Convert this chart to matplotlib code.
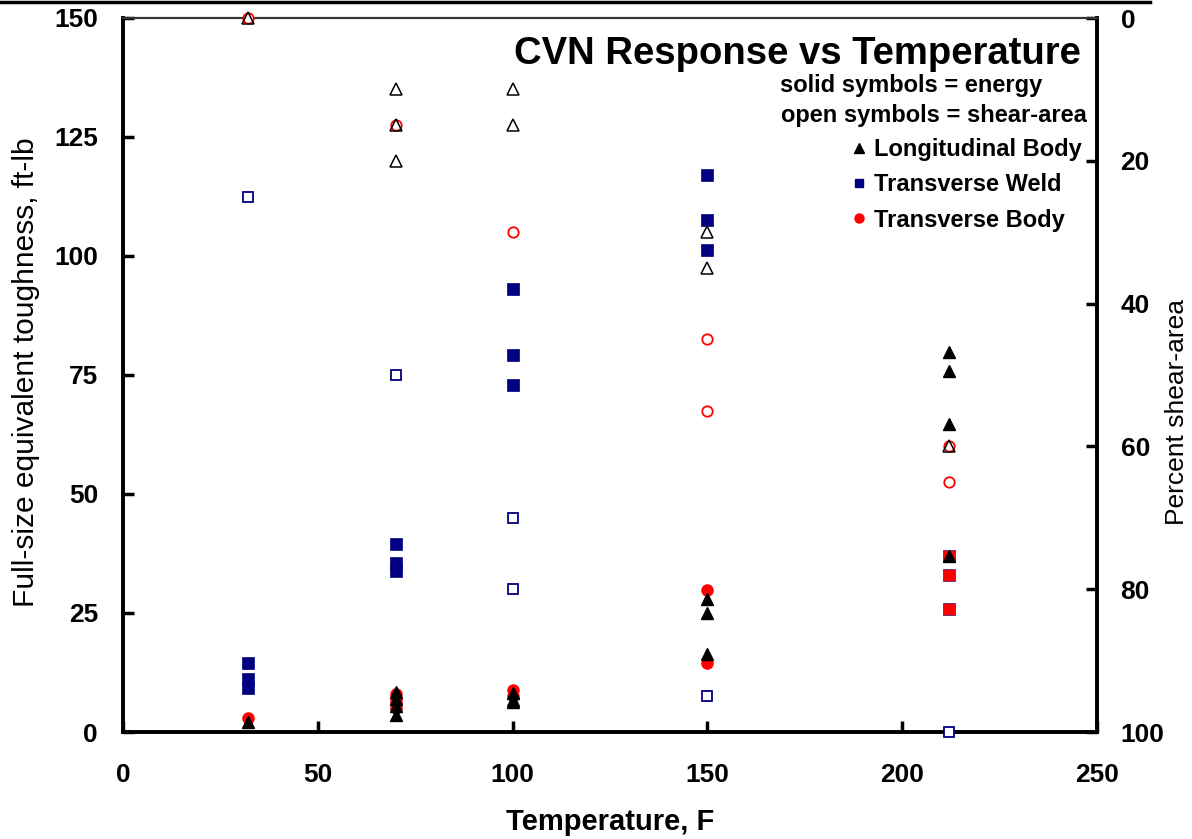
import matplotlib
matplotlib.use("Agg")
import matplotlib.pyplot as plt
from matplotlib.lines import Line2D

plt.rcParams['font.family'] = ['Liberation Sans', 'DejaVu Sans']

# ---- data ----
# Longitudinal Body energy (solid triangles), ft-lb
lb_energy_T = [32, 70, 70, 70, 70, 100, 100, 100, 150, 150, 150, 212, 212, 212, 212]
lb_energy = [2.1, 3.5, 5.5, 7.0, 8.3, 6.3, 6.8, 8.2, 28.0, 25.0, 16.4, 79.8, 75.8, 64.7, 37.0]

# Transverse Weld energy (solid squares), ft-lb
tw_energy_T = [32, 32, 32, 70, 70, 70, 100, 100, 100, 150, 150, 150]
tw_energy = [14.4, 11.1, 9.3, 39.5, 35.4, 33.9, 93.1, 79.2, 72.8, 117.1, 107.6, 101.3]

# Transverse Weld energy at 212 F (drawn red in the reference)
tw212_energy_T = [212, 212, 212]
tw212_energy = [37.0, 33.0, 25.8]

# Transverse Body energy (solid circles), ft-lb
tb_energy_T = [32, 70, 70, 70, 70, 100, 100, 150, 150]
tb_energy = [2.9, 8.0, 7.0, 6.0, 5.0, 8.8, 7.5, 29.8, 14.5]

# Shear-area, percent (open symbols, right axis)
lb_shear_T = [32, 70, 70, 70, 100, 100, 150, 150, 212]
lb_shear = [0, 10, 15, 20, 10, 15, 30, 35, 60]

tw_shear_T = [32, 70, 100, 100, 150, 212]
tw_shear = [25, 50, 70, 80, 95, 100]

tb_shear_T = [32, 70, 100, 150, 150, 212, 212]
tb_shear = [0, 15, 30, 45, 55, 60, 65]

x_ticks = [0, 50, 100, 150, 200, 250]
y_ticks = [0, 25, 50, 75, 100, 125, 150]
y2_ticks = [0, 20, 40, 60, 80, 100]

NAVY = '#000080'
RED = '#FF0000'

W, H = 1192, 839
fig = plt.figure(figsize=(W/100, H/100), dpi=100)
ax = fig.add_axes([123/W, 1-732/H, (1097-123)/W, (732-18)/H])
ax2 = ax.twinx()

# solid symbols (energy, left axis)
ax.plot(tw_energy_T, tw_energy, 's', color=NAVY, ms=8, mec=NAVY, mew=0.5, clip_on=False, zorder=3)
ax.plot(tw212_energy_T, tw212_energy, 's', color=RED, ms=8, mec=NAVY, mew=0.4, clip_on=False, zorder=3)
ax.plot(tb_energy_T, tb_energy, 'o', color=RED, ms=8, mec=RED, clip_on=False, zorder=4)
ax.plot(lb_energy_T, lb_energy, '^', color='black', ms=8.5, mec='black', clip_on=False, zorder=5)

# open symbols (shear, right axis)
ax2.plot(tw_shear_T, tw_shear, 's', mfc='white', mec=NAVY, mew=1.3, ms=7.5, clip_on=False, zorder=3)
ax2.plot(tb_shear_T, tb_shear, 'o', mfc='white', mec=RED, mew=1.3, ms=7.5, clip_on=False, zorder=3)
ax2.plot(lb_shear_T, lb_shear, '^', mfc='none', mec='black', mew=1.1, ms=8.5, clip_on=False, zorder=4)

ax.set_xlim(0, 250)
ax.set_ylim(0, 150)
ax2.set_ylim(100, 0)
ax.set_xticks(x_ticks)
ax.set_yticks(y_ticks)
ax2.set_yticks(y2_ticks)

for a in (ax, ax2):
    for s in ('left', 'bottom', 'right'):
        a.spines[s].set_linewidth(2.6)
        a.spines[s].set_color('black')
    a.spines['top'].set_linewidth(1.5)
    a.spines['top'].set_color('#333333')

ax.tick_params(axis='x', direction='in', length=8, width=2.5, pad=22, labelsize=19)
ax.tick_params(axis='y', direction='in', length=8, width=2.5, pad=18, labelsize=19)
ax2.tick_params(axis='y', direction='in', length=8, width=2.5, pad=17, labelsize=19)
for lab in ax.get_xticklabels() + ax.get_yticklabels() + ax2.get_yticklabels():
    lab.set_fontweight('bold')

# axis titles placed at the reference positions
fig.text(610/W, 1-822/H, 'Temperature, F', ha='center', va='center',
         fontsize=21, fontweight='bold')
fig.text(26/W, 1-372/H, 'Full-size equivalent toughness, ft-lb', rotation=90,
         ha='center', va='center', fontsize=21.5)
fig.text(1177/W, 1-412/H, 'Percent shear-area', rotation=90,
         ha='center', va='center', fontsize=19)

# title and notes inside the plot
ax.text(0.983, 0.9496, 'CVN Response vs Temperature', transform=ax.transAxes,
        ha='right', va='center', fontsize=27.5, fontweight='bold')
ax.text(0.944, 0.906, 'solid symbols = energy', transform=ax.transAxes,
        ha='right', va='center', fontsize=17, fontweight='bold')
ax.text(0.990, 0.864, 'open symbols = shear-area', transform=ax.transAxes,
        ha='right', va='center', fontsize=17, fontweight='bold')

handles = [
    Line2D([], [], ls='none', marker='^', color='black', ms=7),
    Line2D([], [], ls='none', marker='s', color=NAVY, ms=6),
    Line2D([], [], ls='none', marker='o', color=RED, ms=6.5),
]
labels = ['Longitudinal Body', 'Transverse Weld', 'Transverse Body']
leg = ax.legend(handles, labels, loc='upper left', bbox_to_anchor=(0.748, 0.832),
                frameon=False, handlelength=0.6, handletextpad=0.35,
                labelspacing=0.52, borderpad=0, borderaxespad=0,
                prop={'size': 17, 'weight': 'bold'})

# black bar along the very top of the figure
fig.add_artist(Line2D([0, 1150/W], [1-1.5/H, 1-1.5/H], color='black', lw=2.5,
                      transform=fig.transFigure))

fig.savefig('out.png', dpi=100, facecolor='white')
